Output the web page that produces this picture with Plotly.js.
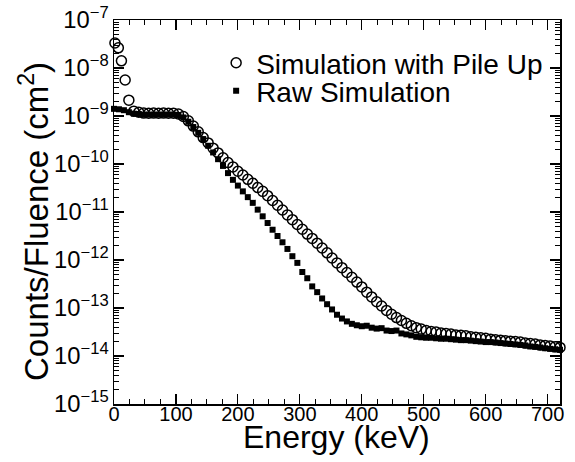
<!DOCTYPE html>
<html>
<head>
<meta charset="utf-8">
<script src="https://cdn.plot.ly/plotly-3.0.1.min.js"></script>
<style>html,body{margin:0;padding:0;background:#fff;}#chart{width:575px;height:462px;}</style>
</head>
<body>
<div id="chart"></div>
<script>
// Simulation with Pile Up (open circles)
const pileEnergy = [1.5, 7, 12, 18, 24,
  32, 40, 48, 56, 64, 72, 80, 88, 96, 104, 112, 120, 128, 136, 144, 152, 160, 168, 176, 184,
  192, 200, 208, 216, 224, 232, 240, 248, 256, 264, 272, 280, 288, 296, 304, 312, 320, 328, 336, 344,
  352, 360, 368, 376, 384, 392, 400, 408, 416, 424, 432, 440, 448, 456, 464, 472, 480, 488, 496, 504,
  512, 520, 528, 536, 544, 552, 560, 568, 576, 584, 592, 600, 608, 616, 624, 632, 640, 648, 656, 664,
  672, 680, 688, 696, 704, 712, 720];
const pileCounts = [3.31e-8, 2.63e-8, 1.41e-8, 5.62e-9, 2.14e-9,
  1.26e-9, 1.20e-9, 1.15e-9, 1.14e-9, 1.15e-9, 1.14e-9, 1.15e-9, 1.14e-9, 1.14e-9, 1.10e-9, 9.77e-10, 7.94e-10, 6.17e-10, 4.68e-10, 3.55e-10, 2.75e-10, 2.14e-10, 1.70e-10, 1.35e-10, 1.07e-10,
  8.71e-11, 7.08e-11, 5.89e-11, 4.79e-11, 3.98e-11, 3.24e-11, 2.69e-11, 2.19e-11, 1.74e-11, 1.38e-11, 1.10e-11, 8.71e-12, 6.92e-12, 5.50e-12, 4.37e-12, 3.47e-12, 2.82e-12, 2.24e-12, 1.78e-12, 1.41e-12,
  1.10e-12, 8.71e-13, 6.92e-13, 5.50e-13, 4.37e-13, 3.47e-13, 2.75e-13, 2.14e-13, 1.70e-13, 1.35e-13, 1.10e-13, 8.91e-14, 7.41e-14, 6.31e-14, 5.50e-14, 4.79e-14, 4.27e-14, 3.89e-14, 3.63e-14, 3.39e-14,
  3.24e-14, 3.16e-14, 3.02e-14, 2.95e-14, 2.88e-14, 2.75e-14, 2.69e-14, 2.63e-14, 2.51e-14, 2.45e-14, 2.40e-14, 2.34e-14, 2.24e-14, 2.19e-14, 2.14e-14, 2.09e-14, 2.04e-14, 2.00e-14, 1.95e-14, 1.86e-14,
  1.82e-14, 1.78e-14, 1.70e-14, 1.66e-14, 1.62e-14, 1.55e-14, 1.51e-14];

// Raw Simulation (filled squares)
const rawEnergy = [0, 8, 16, 24, 32, 40, 48, 56, 64, 72, 80, 88, 96, 104, 112, 120, 128, 136, 144, 152,
  160, 168, 176, 184, 192, 200, 208, 216, 224, 232, 240, 248, 256, 264, 272, 280, 288, 296, 304, 312,
  320, 328, 336, 344, 352, 360, 368, 376, 384, 392, 400, 408, 416, 424, 432, 440, 448, 456, 464, 472,
  480, 488, 496, 504, 512, 520, 528, 536, 544, 552, 560, 568, 576, 584, 592, 600, 608, 616, 624, 632,
  640, 648, 656, 664, 672, 680, 688, 696, 704, 712, 720];
const rawCounts = [1.41e-9, 1.38e-9, 1.32e-9, 1.20e-9, 1.12e-9, 1.10e-9, 1.07e-9, 1.07e-9, 1.07e-9, 1.07e-9, 1.07e-9, 1.07e-9, 1.07e-9, 1.05e-9, 9.33e-10, 7.59e-10, 5.89e-10, 4.47e-10, 3.31e-10, 2.40e-10,
  1.74e-10, 1.26e-10, 9.12e-11, 6.46e-11, 4.68e-11, 3.55e-11, 2.69e-11, 2.04e-11, 1.55e-11, 1.12e-11, 8.13e-12, 5.89e-12, 4.27e-12, 3.16e-12, 2.34e-12, 1.70e-12, 1.20e-12, 8.71e-13, 5.62e-13, 4.17e-13,
  2.82e-13, 2.14e-13, 1.58e-13, 1.20e-13, 9.33e-14, 7.24e-14, 6.03e-14, 5.25e-14, 4.68e-14, 4.37e-14, 4.17e-14, 4.27e-14, 3.89e-14, 3.72e-14, 3.80e-14, 3.39e-14, 3.31e-14, 3.39e-14, 2.95e-14, 2.82e-14,
  2.69e-14, 2.51e-14, 2.45e-14, 2.40e-14, 2.40e-14, 2.34e-14, 2.29e-14, 2.29e-14, 2.24e-14, 2.19e-14, 2.14e-14, 2.14e-14, 2.09e-14, 2.04e-14, 2.00e-14, 1.95e-14, 1.95e-14, 1.91e-14, 1.86e-14, 1.82e-14,
  1.78e-14, 1.74e-14, 1.70e-14, 1.66e-14, 1.58e-14, 1.55e-14, 1.51e-14, 1.45e-14, 1.41e-14, 1.38e-14, 1.35e-14];

const seriesNames = ['Simulation with Pile Up', 'Raw Simulation'];
const xTitle = 'Energy (keV)';
const yTitle = 'Counts/Fluence (cm<sup>2</sup>)';

const FONT = 'Liberation Sans, Arial, Helvetica, sans-serif';

// minor tick positions on the log axis (2..9 in each decade)
const yMinorVals = [];
for (let e = -15; e < -7; e++) {
  for (let m = 2; m <= 9; m++) yMinorVals.push(m * Math.pow(10, e));
}

const traces = [
  {x: pileEnergy, y: pileCounts, name: seriesNames[0], type: 'scatter', mode: 'markers',
   cliponaxis: false, legend: 'legend',
   marker: {symbol: 'circle-open', size: 10, color: '#000', line: {color: '#000', width: 1.5}}},
  {x: rawEnergy, y: rawCounts, name: seriesNames[1], type: 'scatter', mode: 'markers',
   cliponaxis: false, legend: 'legend2',
   marker: {symbol: 'square', size: 6, color: '#000'}},
  // empty trace that only anchors the minor-tick axis
  {x: [], y: [], type: 'scatter', mode: 'markers', yaxis: 'y2', showlegend: false, hoverinfo: 'skip'}
];

const axisCommon = {
  showgrid: false, zeroline: false, showline: true, linecolor: '#000', linewidth: 1.5,
  mirror: 'ticks', ticks: 'inside', ticklen: 10, tickwidth: 1.2, tickcolor: '#000'
};

const legendCommon = {xanchor: 'left', yanchor: 'middle', bgcolor: 'rgba(0,0,0,0)',
  font: {family: FONT, size: 28, color: '#000'}, itemclick: false};

const layout = {
  width: 575, height: 462,
  margin: {l: 114, r: 15, t: 20, b: 58},
  paper_bgcolor: '#fff', plot_bgcolor: '#fff',
  font: {family: FONT, color: '#000'},
  showlegend: true,
  legend: Object.assign({}, legendCommon, {x: 0.229, y: 1 - (63 - 20) / 384}),
  legend2: Object.assign({}, legendCommon, {x: 0.229, y: 1 - (91 - 20) / 384}),
  xaxis: Object.assign({}, axisCommon, {
    range: [0, 720], tick0: 0, dtick: 100,
    tickfont: {family: FONT, size: 20, color: '#000'}, ticklabelstandoff: -9,
    minor: {ticks: 'inside', dtick: 25, ticklen: 5, tickcolor: '#000', tickwidth: 1}
  }),
  yaxis: Object.assign({}, axisCommon, {
    type: 'log', range: [-15, -7], dtick: 1, exponentformat: 'power',
    tickfont: {family: FONT, size: 19, color: '#000'}
  }),
  yaxis2: {
    overlaying: 'y', side: 'left', type: 'log', range: [-15, -7],
    tickmode: 'array', tickvals: yMinorVals, showticklabels: false,
    ticks: 'inside', ticklen: 5, tickwidth: 1, tickcolor: '#000',
    showline: true, linecolor: '#000', linewidth: 1.5, mirror: 'ticks',
    showgrid: false, zeroline: false
  },
  annotations: [
    {text: xTitle, xref: 'paper', yref: 'paper', x: 0.498, y: (404 - 437) / 384,
     xanchor: 'center', yanchor: 'middle', showarrow: false,
     font: {family: FONT, size: 32, color: '#000'}},
    {text: yTitle, xref: 'paper', yref: 'paper', x: (34 - 114) / 446, y: (404 - 222) / 384,
     xanchor: 'center', yanchor: 'middle', textangle: -90, showarrow: false,
     font: {family: FONT, size: 33, color: '#000'}}
  ]
};

Plotly.newPlot('chart', traces, layout, {displayModeBar: false, staticPlot: true});
</script>
</body>
</html>
